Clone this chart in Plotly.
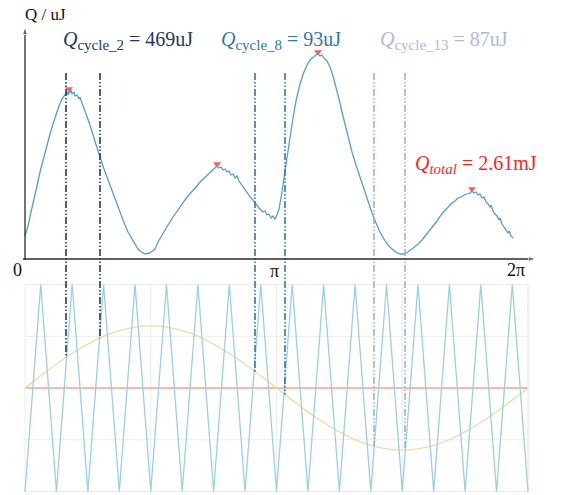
import plotly.graph_objects as go
import numpy as np

# ---------------- data ----------------
# phase samples: 503 samples per 2*pi (360 deg)
SAMPLES_PER_CYCLE = 503

# Q(phase) curve (sample index, Q in relative uJ units)
q_idx = [0, 3, 6, 9, 12, 15, 18, 21, 25, 28, 31, 34, 37, 39, 41, 42, 43, 44, 45, 46, 47, 49, 50, 52, 54, 55, 57,
         59, 61, 63, 65, 68, 71, 75, 79, 83, 88, 93, 98, 103, 108, 113, 115, 120, 125, 130,
         133, 138, 143, 148, 152, 156, 160, 163, 166, 169, 172, 175, 178, 181, 184, 186, 188, 190, 192, 194, 196,
         198, 200, 202, 204, 206, 208, 210, 212, 214, 216, 218, 220, 222, 224, 226, 228, 230, 232, 234, 236, 238,
         240, 242, 244, 246, 248, 250, 252, 254, 256, 258, 260,
         262, 265, 268, 271, 275, 279, 283, 286, 289, 291, 293, 295, 297, 299, 302, 305, 308, 311, 314, 317, 320,
         323, 327, 331, 335, 339, 343, 347, 351, 355, 359, 363, 367, 371, 375, 379, 383,
         387, 392, 397, 402, 407, 412, 416, 420, 424, 427, 430, 433, 436, 439, 442, 445, 447, 449, 451, 453, 455,
         457, 459, 461, 463, 465, 466, 468, 470, 472, 474, 475, 477, 479, 481, 483, 484, 486, 488]
q_val = [23, 33, 47, 59, 73, 87, 99, 111, 125, 135, 145, 153, 160, 163, 165, 167, 164, 168, 166, 169, 165, 167,
         163, 164, 160, 162, 156, 151, 146, 140, 134, 124, 114, 102, 90, 79, 66, 52, 39, 27, 18, 10, 8, 5, 6, 10,
         17, 26, 34, 42, 48, 54, 59, 63, 66, 70, 73, 77, 80, 83, 86, 87, 89, 91, 93, 91, 92, 89, 90, 87, 88, 84,
         85, 81, 83, 78, 75, 73, 69, 66, 64, 61, 59, 56, 53, 51, 49, 47, 48, 44, 45, 41, 43, 40, 44, 50, 61, 75,
         89,
         104, 123, 141, 158, 175, 187, 196, 200, 203, 204, 205, 203, 204, 201, 198, 192, 183, 172, 160, 147, 134,
         122, 107, 94, 82, 69, 57, 46, 36, 27, 20, 14, 10, 7, 5, 5, 7,
         10, 14, 19, 25, 32, 38, 44, 49, 53, 56, 58, 61, 62, 64, 65, 66, 68, 66, 67, 64, 65, 61, 62, 57, 55, 52,
         54, 48, 45, 43, 39, 41, 35, 32, 30, 26, 28, 23, 21]

# peaks (red markers)
peak_idx = [44, 192, 293, 447]
peak_q = [168, 93, 205, 68]

# carrier (triangle) vertices and modulating reference, every 11.25 deg
carrier_deg = [i * 11.25 for i in range(33)]
carrier_val = [-1, 1] * 16 + [-1]
reference_val = [0.0, 0.117, 0.23, 0.333, 0.424, 0.499, 0.554, 0.588, 0.6, 0.588, 0.554, 0.499, 0.424, 0.333,
                 0.23, 0.117, 0.0, -0.117, -0.23, -0.333, -0.424, -0.499, -0.554, -0.588, -0.6, -0.588, -0.554,
                 -0.499, -0.424, -0.333, -0.23, -0.117, 0.0]

# switching instants for the highlighted cycles (sample index)
sw_cycle2 = [41, 75]
sw_cycle8 = [230, 260]
sw_cycle13 = [349, 380]

SUB = '<sub><span style="font-size:15px">{}</span></sub>'
labels = ["<i>Q</i>" + SUB.format("cycle_2") + " = 469uJ",
          "<i>Q</i>" + SUB.format("cycle_8") + " = 93uJ",
          "<i>Q</i>" + SUB.format("cycle_13") + " = 87uJ",
          "<i>Q</i>" + SUB.format("<i>total</i>") + " = 2.61mJ"]
tick_text = ["0", "π", "2π"]

# ---------------- layout helpers ----------------
W, H = 566, 495
PX_PER_UNIT = 103.5
DEG_PER_SAMPLE = 360.0 / SAMPLES_PER_CYCLE


def ydata(py):
    return 1 - (py - 284.5) / PX_PER_UNIT


def xdata(px):
    return (px - 25) * DEG_PER_SAMPLE


Y_BASE = ydata(259)
LINE_TOP = ydata(73)


def deg(idx):
    return [i * DEG_PER_SAMPLE for i in idx]


fig = go.Figure()

shapes = []
grid_c = "#ECECEC"
for gy in [-1, -0.5, 0.5, 1]:
    shapes.append(dict(type="line", xref="x", yref="y", x0=0, x1=360, y0=gy, y1=gy,
                       line=dict(color=grid_c, width=1), layer="below"))
for gx in [0, 90, 180, 270, 360]:
    shapes.append(dict(type="line", xref="x", yref="y", x0=gx, x1=gx, y0=-1, y1=1,
                       line=dict(color="#E2E2E2" if gx == 360 else grid_c, width=1), layer="below"))

# zero line
fig.add_trace(go.Scatter(x=[0, 360], y=[0, 0], mode="lines",
                         line=dict(color="#F5BBA5", width=1.8), hoverinfo="skip"))
# reference
fig.add_trace(go.Scatter(x=carrier_deg, y=reference_val, mode="lines", line_shape="spline",
                         line=dict(color="#F1DCA6", width=1.4), hoverinfo="skip"))
# carrier
fig.add_trace(go.Scatter(x=carrier_deg, y=carrier_val, mode="lines",
                         line=dict(color="#9ACFE5", width=1.3), hoverinfo="skip"))

# Q curve
fig.add_trace(go.Scatter(x=deg(q_idx), y=[Y_BASE + q / PX_PER_UNIT for q in q_val], mode="lines",
                         line=dict(color="#5B9BD5", width=1.3), hoverinfo="skip"))
fig.add_trace(go.Scatter(x=deg(peak_idx), y=[Y_BASE + q / PX_PER_UNIT + 0.02 for q in peak_q], mode="markers",
                         marker=dict(symbol="triangle-down", size=7, color="#F2625A"), hoverinfo="skip"))

# switching lines
dash = "7px,2px,1.5px,2px,1.5px,2px"
for sw, col, wd in [(sw_cycle2, "#203864", 1.6), (sw_cycle8, "#2E75B6", 1.6), (sw_cycle13, "#9DB0DE", 1.6)]:
    for s in sw:
        xd = s * DEG_PER_SAMPLE
        yb = float(np.interp(xd, carrier_deg, reference_val))
        fig.add_trace(go.Scatter(x=[xd, xd], y=[LINE_TOP, yb], mode="lines",
                                 line=dict(color=col, width=wd, dash=dash), hoverinfo="skip"))

# top axes drawn as lines with arrow markers
fig.add_trace(go.Scatter(x=[xdata(23), xdata(536)], y=[Y_BASE, Y_BASE], mode="lines+markers",
                         line=dict(color="#2B2B2B", width=1.3),
                         marker=dict(symbol=["circle", "arrow"], size=[0, 8], angleref="previous",
                                     color="#2B2B2B"), hoverinfo="skip"))
fig.add_trace(go.Scatter(x=[0, 0], y=[Y_BASE - 0.01, ydata(27)], mode="lines+markers",
                         line=dict(color="#2B2B2B", width=1.3),
                         marker=dict(symbol=["circle", "arrow"], size=[0, 8], angleref="previous",
                                     color="#2B2B2B"), hoverinfo="skip"))

annotations = []
SERIF = "Liberation Serif, DejaVu Serif, serif"


def txt(text, px, py, size, color, xanchor="left"):
    annotations.append(dict(text=text, x=px / W, y=1 - py / H, xref="paper", yref="paper",
                            showarrow=False, xanchor=xanchor, yanchor="middle",
                            font=dict(family=SERIF, size=size, color=color)))


txt("Q / uJ", 23, 15, 17, "#111111")
txt(labels[0], 61, 41, 20, "#203864")
txt(labels[1], 219, 41, 20, "#2E75B6")
txt(labels[2], 378, 41, 20, "#A9B9E2")
txt(labels[3], 413, 165, 20, "#FF1E1E")
txt(tick_text[0], 17, 270, 18, "#111111", "center")
txt(tick_text[1], 274, 271, 18, "#111111", "center")
txt(tick_text[2], 516, 270, 18, "#111111", "center")

fig.update_layout(
    width=W, height=H, margin=dict(l=0, r=0, t=0, b=0),
    paper_bgcolor="white", plot_bgcolor="white", showlegend=False,
    xaxis=dict(range=[xdata(0), xdata(W)], visible=False, fixedrange=True),
    yaxis=dict(range=[ydata(H), ydata(0)], visible=False, fixedrange=True),
    shapes=shapes, annotations=annotations,
)

fig.write_html("out.html")
